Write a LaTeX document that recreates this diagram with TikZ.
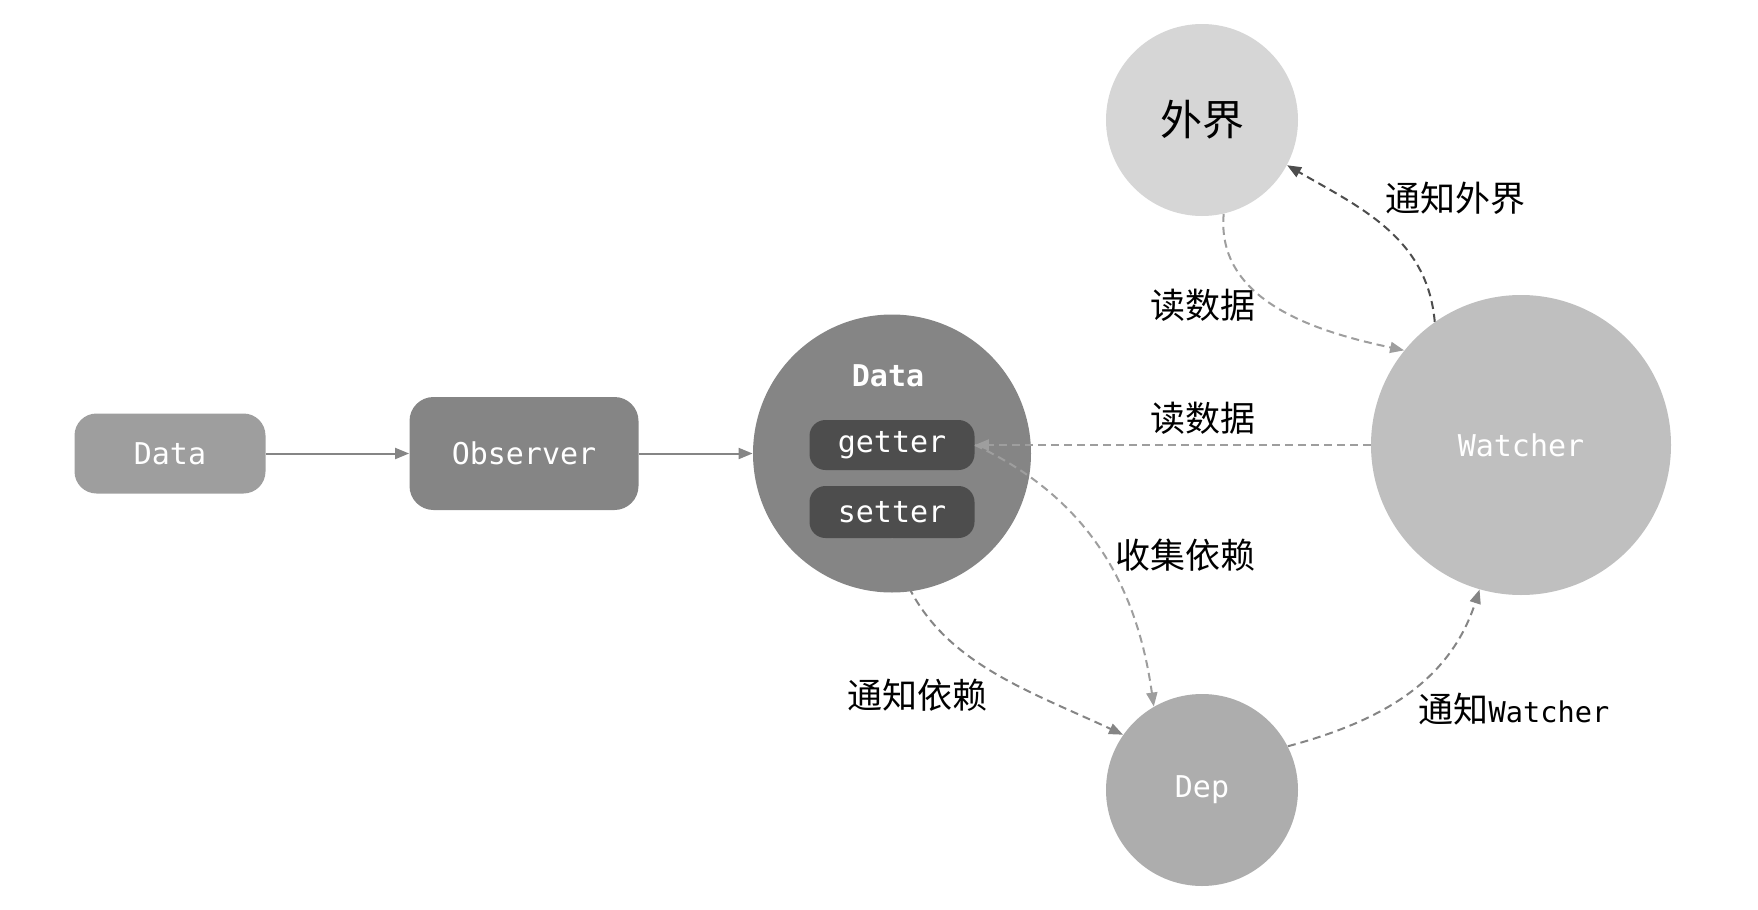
\documentclass[tikz,border=0pt]{standalone}
\usepackage{fontspec}
\setmonofont{DejaVu Sans Mono}
\newfontfamily\cjk{Noto Sans CJK SC}
\usetikzlibrary{arrows.meta}

\definecolor{greyA}{HTML}{9E9E9E}
\definecolor{greyB}{HTML}{858585}
\definecolor{greyC}{HTML}{4D4D4D}
\definecolor{greyD}{HTML}{D6D6D6}
\definecolor{greyE}{HTML}{BFBFBF}
\definecolor{greyF}{HTML}{ADADAD}

\begin{document}
\begin{tikzpicture}[x=0.5pt, y=-0.5pt,
  box/.style={rounded corners=11pt, inner sep=0pt, text=white, font=\ttfamily\fontsize{15}{18}\selectfont},
  ball/.style={circle, inner sep=0pt, text=white, font=\ttfamily\fontsize{15}{18}\selectfont},
  flow/.style={-{Triangle[length=7pt,width=5.5pt]}, line width=1pt, draw=greyB},
  link/.style={flow, dash pattern=on 4pt off 2.5pt},
  tag/.style={font=\cjk\fontsize{17.5}{20}\selectfont}]
  \useasboundingbox (0,0) rectangle (1758,910);
  % Boxes
  \node[box, fill=greyA, minimum width=95.5pt, minimum height=40pt] (data) at (170,453.5) {Data};
  \node[box, fill=greyB, minimum width=114.5pt, minimum height=56.5pt, rounded corners=12pt] (observer) at (524,453.5) {Observer};
  % Data with getter / setter
  \node[ball, fill=greyB, minimum size=139pt] (store) at (892,453.5) {};
  \node[font=\ttfamily\bfseries\fontsize{15}{18}\selectfont, text=white] (title) at (888,376) {Data};
  \node[box, fill=greyC, minimum width=82.5pt, minimum height=25pt, rounded corners=8pt] (getter) at (892,445) {getter};
  \node[box, fill=greyC, minimum width=82.5pt, minimum height=26pt, rounded corners=8pt] (setter) at (892,512) {setter};
  % Circles
  \node[ball, fill=greyD, minimum size=96pt, text=black, font=\cjk\fontsize{21}{24}\selectfont] (world) at (1202,120) {外界};
  \node[ball, fill=greyE, minimum size=150pt] (watcher) at (1521,445) {Watcher};
  \node[ball, fill=greyF, minimum size=96pt] (dep) at (1202,790) {Dep};
  % Solid arrows
  \draw[flow] (data.east) -- (observer.west);
  \draw[flow] (observer.east) -- (store.west);
  % Dashed arrows
  \draw[link, draw=greyA] (watcher.west) -- (getter.east);
  \draw[link, draw=greyA] (getter.east) to[out=-25, in=98] (dep.120);
  \draw[link, draw=greyB] (setter.south) to[out=-78, in=155] (dep.145);
  \draw[link, draw=greyB] (dep.27) to[out=15, in=-108] (watcher.254);
  \draw[link, draw=greyA] (world.283) to[out=-95, in=168] (watcher.141);
  \draw[link, draw=greyC] (watcher.125) to[out=95, in=-30] (world.-28);
  % Labels
  \node[tag] (tWorld) at (1455,198) {通知外界};
  \node[tag] (tRead) at (1203,305) {读数据};
  \node[tag] (tGet) at (1203,418) {读数据};
  \node[tag] (tCollect) at (1185,555) {收集依赖};
  \node[tag] (tNotify) at (917,695) {通知依赖};
  \node[tag] (tWatch) at (1514,709) {通知{\ttfamily\fontsize{14.3}{18}\selectfont Watcher}};
\end{tikzpicture}
\end{document}
